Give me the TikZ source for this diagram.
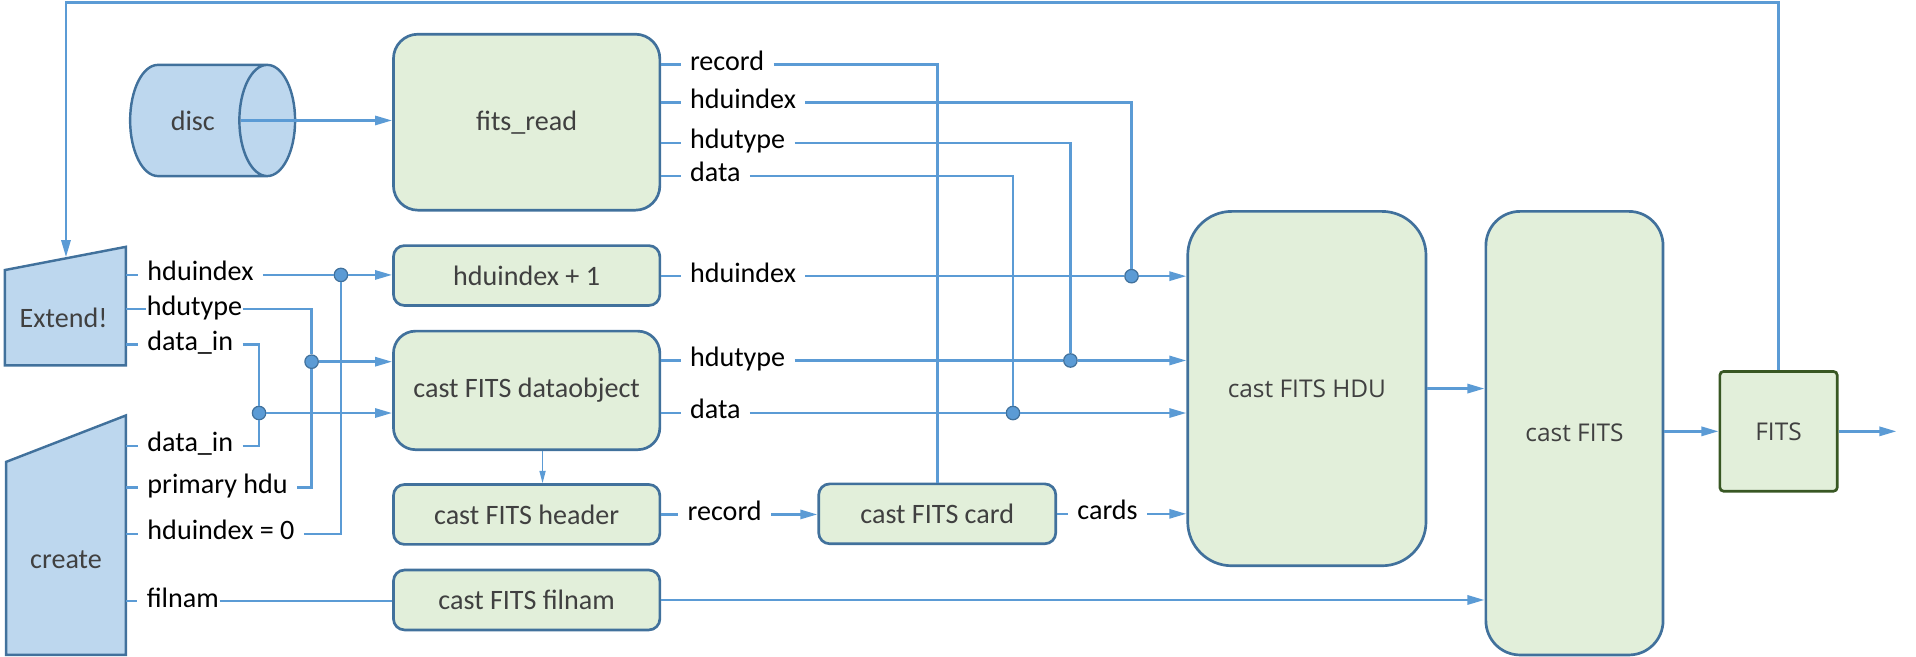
\documentclass[tikz,border=0pt]{standalone}
\usepackage{fontspec}
\setmainfont{Carlito}
\newfontfamily\segoe{Open Sans}
\usetikzlibrary{arrows.meta,shapes.geometric}

\definecolor{wire}{HTML}{5B9BD5}
\definecolor{rim}{HTML}{41719C}
\definecolor{leaf}{HTML}{E2EFDA}
\definecolor{sky}{HTML}{BDD7EE}
\definecolor{ink}{HTML}{404040}
\definecolor{moss}{HTML}{385723}

\begin{document}
\begin{tikzpicture}[x=1pt, y=-1pt, >={Triangle[length=14pt,width=7.5pt]}]
    \useasboundingbox (0,0) rectangle (1568,537.6);

    \tikzset{BoxStyle/.style={draw=rim, fill=leaf, line width=2.2pt, text=ink, inner sep=0pt,
        font=\fontsize{23}{27}\selectfont, minimum width=218pt, rounded corners=9pt}}
    \node[BoxStyle, minimum height=144pt, rounded corners=20pt] (fitsread) at (431,100)   {fits\_read};
    \node[BoxStyle, minimum height=49pt]                        (hduplus)  at (431,225.5) {hduindex + 1};
    \node[BoxStyle, minimum height=97pt, rounded corners=18pt]  (dataobj)  at (431,319.5) {cast FITS dataobject};
    \node[BoxStyle, minimum height=49pt]                        (header)   at (431,421)   {cast FITS header};
    \node[BoxStyle, minimum height=49pt]                        (filnam)   at (431,491)   {cast FITS filnam};
    \node[BoxStyle, minimum width=194pt, minimum height=49pt]   (card)     at (767,420.5) {cast FITS card};

    \tikzset{BoxStyle/.append style={font=\segoe\fontsize{20}{24}\selectfont}}
    \node[BoxStyle, minimum width=195pt, minimum height=290pt, rounded corners=36pt] (hdu)      at (1069.5,318)  {cast FITS HDU};
    \node[BoxStyle, minimum width=145pt, minimum height=363pt, rounded corners=28pt] (castfits) at (1288.5,354.5) {cast FITS};
    \node[BoxStyle, draw=moss, minimum width=96pt, minimum height=98pt, rounded corners=3pt] (fits) at (1455.5,353) {FITS};

    \tikzset{SourceStyle/.style={draw=rim, fill=sky, line width=2pt}}
    \node[SourceStyle, cylinder, aspect=2, anchor=shape center, minimum width=91pt, minimum height=135pt,
        text=ink, font=\fontsize{23}{27}\selectfont] (disc) at (174,98.6) {disc};
    \path[SourceStyle] (4,221) -- (103,202) -- (103,299) -- (4,299) -- cycle;
    \path[SourceStyle] (5,378) -- (103,340) -- (103,536) -- (5,536) -- cycle;
    \node[text=ink, font=\fontsize{23}{27}\selectfont] (extend) at (52,260) {Extend!};
    \node[text=ink, font=\fontsize{23}{27}\selectfont] (create) at (54,458) {create};
    \coordinate (extside) at (103,250);
    \coordinate (crside)  at (103,440);

    \tikzset{PortStyle/.style={anchor=west, inner xsep=7.5pt, inner ysep=0pt, text height=9.6pt,
        text depth=0pt, font=\fontsize{23}{27}\selectfont}}
    \node[PortStyle] (rdrecord)  at (557,53)    {record};
    \node[PortStyle] (rdindex)   at (557,84)    {hduindex};
    \node[PortStyle] (rdtype)    at (557,117)   {hdutype};
    \node[PortStyle] (rddata)    at (557,144)   {data};
    \node[PortStyle] (plusindex) at (557,226)   {hduindex};
    \node[PortStyle] (objtype)   at (557,295)   {hdutype};
    \node[PortStyle] (objdata)   at (557,338)   {data};
    \node[PortStyle] (hdrrecord) at (555,421)   {record};
    \node[PortStyle] (cards)     at (874,420.5) {cards};
    \node[PortStyle] (extindex)  at (113,225)   {hduindex};
    \node[PortStyle, inner xsep=0.5pt] (exttype) at (119.5,253) {hdutype};
    \node[PortStyle] (extdata)   at (113,282)   {data\_in};
    \node[PortStyle] (crdata)    at (113,365)   {data\_in};
    \node[PortStyle] (crprimary) at (113,399)   {primary hdu};
    \node[PortStyle] (crindex)   at (113,437)   {hduindex = 0};
    \node[PortStyle, inner xsep=0.5pt] (crfilnam) at (119.5,492) {filnam};

    \tikzset{DotStyle/.style={circle, fill=wire, draw=rim, line width=1pt, minimum size=11pt, inner sep=0pt}}
    \node[DotStyle] (jindex)   at (279,225) {};
    \node[DotStyle] (jtype)    at (255,296) {};
    \node[DotStyle] (jdata)    at (212,338) {};
    \node[DotStyle] (jrdindex) at (926,226) {};
    \node[DotStyle] (jrdtype)  at (876,295) {};
    \node[DotStyle] (jrddata)  at (829,338) {};

    \coordinate (fbcorner) at (54,2);
    \coordinate (extin)    at (54,210.5);
    \coordinate (fitsout)  at (1552,353);

    \tikzset{EdgeStyle/.style={draw=wire, line width=2.1pt}}
    \draw[EdgeStyle, ->] ([xshift=-45pt]disc.east) -- (fitsread.west |- disc.east);
    \draw[EdgeStyle] (fitsread.east |- rdrecord) -- (rdrecord.west);
    \draw[EdgeStyle] (fitsread.east |- rdindex)  -- (rdindex.west);
    \draw[EdgeStyle] (fitsread.east |- rdtype)   -- (rdtype.west);
    \draw[EdgeStyle] (fitsread.east |- rddata)   -- (rddata.west);
    \draw[EdgeStyle] (rdrecord.east) -| (card.north);
    \draw[EdgeStyle] (rdindex.east)  -| (jrdindex);
    \draw[EdgeStyle] (rdtype.east)   -| (jrdtype);
    \draw[EdgeStyle] (rddata.east)   -| (jrddata);

    \draw[EdgeStyle] (hduplus.east |- plusindex) -- (plusindex.west);
    \draw[EdgeStyle] (plusindex.east) -- (jrdindex);
    \draw[EdgeStyle, ->] (jrdindex) -- (hdu.west |- jrdindex);
    \draw[EdgeStyle] (dataobj.east |- objtype) -- (objtype.west);
    \draw[EdgeStyle] (objtype.east) -- (jrdtype);
    \draw[EdgeStyle, ->] (jrdtype) -- (hdu.west |- jrdtype);
    \draw[EdgeStyle] (dataobj.east |- objdata) -- (objdata.west);
    \draw[EdgeStyle] (objdata.east) -- (jrddata);
    \draw[EdgeStyle, ->] (jrddata) -- (hdu.west |- jrddata);
    \draw[EdgeStyle, line width=1pt, -{Triangle[length=10pt,width=5pt]}]
        ([xshift=13pt]dataobj.south) -- ([xshift=13pt]header.north);
    \draw[EdgeStyle] (header.east |- hdrrecord) -- (hdrrecord.west);
    \draw[EdgeStyle, ->] (hdrrecord.east) -- (card.west |- hdrrecord);
    \draw[EdgeStyle] (card.east |- cards) -- (cards.west);
    \draw[EdgeStyle, ->] (cards.east) -- (hdu.west |- cards);
    \draw[EdgeStyle, ->] (hdu.east) -- (castfits.west |- hdu.east);
    \draw[EdgeStyle, ->] (castfits.east |- fits.west) -- (fits.west);
    \draw[EdgeStyle, ->] (fits.east) -- (fitsout);
    \draw[EdgeStyle, ->] (fits.north) |- (fbcorner) -- (extin);

    \draw[EdgeStyle] (extside |- extindex) -- (extindex.west);
    \draw[EdgeStyle] (extindex.east) -- (jindex);
    \draw[EdgeStyle, ->] (jindex) -- (hduplus.west |- jindex);
    \draw[EdgeStyle] (extside |- exttype) -- (exttype.west);
    \draw[EdgeStyle] (exttype.east) -| (jtype);
    \draw[EdgeStyle, ->] (jtype) -- (dataobj.west |- jtype);
    \draw[EdgeStyle] (extside |- extdata) -- (extdata.west);
    \draw[EdgeStyle] (extdata.east) -| (jdata);
    \draw[EdgeStyle, ->] (jdata) -- (dataobj.west |- jdata);

    \draw[EdgeStyle] (crside |- crdata) -- (crdata.west);
    \draw[EdgeStyle] (crdata.east) -| (jdata);
    \draw[EdgeStyle] (crside |- crprimary) -- (crprimary.west);
    \draw[EdgeStyle] (crprimary.east) -| (jtype);
    \draw[EdgeStyle] (crside |- crindex) -- (crindex.west);
    \draw[EdgeStyle] (crindex.east) -| (jindex);
    \draw[EdgeStyle, shorten >=7pt] (crside |- crfilnam) -- (crfilnam.west);
    \draw[EdgeStyle] (crfilnam.east) -- (filnam.west |- crfilnam);
    \draw[EdgeStyle, ->] (filnam.east) -- (castfits.west |- filnam.east);
\end{tikzpicture}
\end{document}
